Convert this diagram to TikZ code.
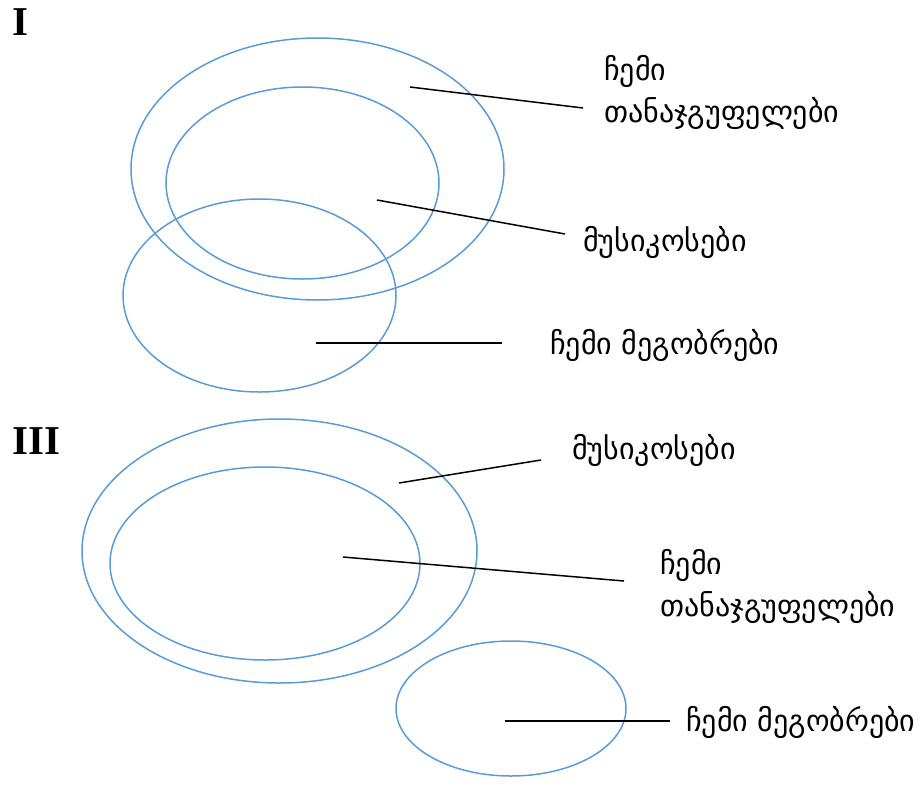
\documentclass[tikz,border=0pt]{standalone}
\usepackage{fontspec}
\newfontfamily\geofont[Script=Georgian]{DejaVu Sans}
\newfontfamily\romfont{Liberation Serif}
\definecolor{ellblue}{HTML}{5B9BD5}
\begin{document}
\begin{tikzpicture}[x=1pt,y=-1pt,
  ell/.style={draw=ellblue,line width=1.5pt},
  lead/.style={draw=black,line width=1.5pt},
  lbl/.style={anchor=west,inner sep=0pt,font=\geofont\fontsize{30}{42}\selectfont,align=left},
  roman/.style={anchor=base west,inner sep=0pt,font=\romfont\bfseries\fontsize{41}{41}\selectfont}]
\useasboundingbox (0,0) rectangle (920,806);
% section I
\node[roman] (r1) at (12,35) {I};
\draw[ell] (317.5,169) ellipse (186.5 and 131);
\draw[ell] (302.5,183) ellipse (136.5 and 96);
\draw[ell] (259.5,295.5) ellipse (136.5 and 96.5);
\node[lbl] (t1) at (604,92) {ჩემი\\თანაჯგუფელები};
\node[lbl] (m1) at (583,242) {მუსიკოსები};
\node[lbl] (f1) at (550,345) {ჩემი მეგობრები};
\coordinate (a1) at (410,87); \coordinate (b1) at (583,108);
\coordinate (a2) at (377,200); \coordinate (b2) at (565,234);
\coordinate (a3) at (316,343); \coordinate (b3) at (502,343);
\draw[lead] (a1) -- (b1);
\draw[lead] (a2) -- (b2);
\draw[lead] (a3) -- (b3);
% section III
\node[roman] (r3) at (12,454) {III};
\draw[ell] (279.5,551) ellipse (197.5 and 132);
\draw[ell] (265,563.5) ellipse (155 and 96.5);
\draw[ell] (511,708.5) ellipse (115 and 67.5);
\node[lbl] (m3) at (572,450) {მუსიკოსები};
\node[lbl] (t3) at (660,586) {ჩემი\\თანაჯგუფელები};
\node[lbl] (f3) at (686,722) {ჩემი მეგობრები};
\coordinate (c1) at (399,483); \coordinate (d1) at (541,460);
\coordinate (c2) at (343,557); \coordinate (d2) at (624,581);
\coordinate (c3) at (505,721); \coordinate (d3) at (670,721);
\draw[lead] (c1) -- (d1);
\draw[lead] (c2) -- (d2);
\draw[lead] (c3) -- (d3);
\end{tikzpicture}
\end{document}
